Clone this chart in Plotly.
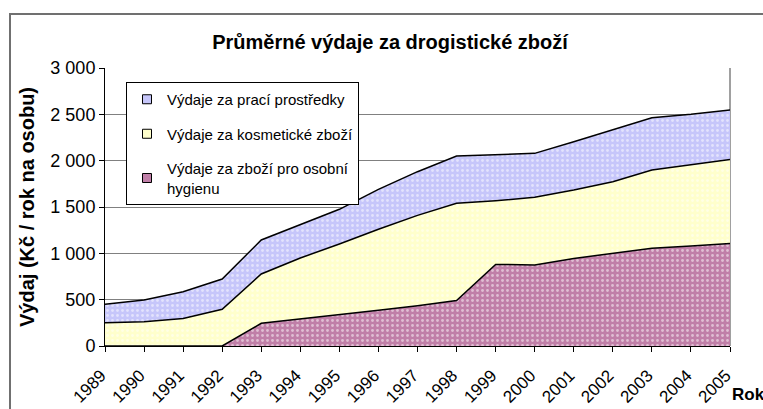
import plotly.graph_objects as go

years = [1989, 1990, 1991, 1992, 1993, 1994, 1995, 1996, 1997, 1998,
         1999, 2000, 2001, 2002, 2003, 2004, 2005]
year_labels = [str(y) for y in years]
hygiene = [0, 0, 0, 0, 245, 290, 340, 385, 435, 490, 880, 875, 945, 1000, 1055, 1080, 1105]
cosmetics = [252, 262, 298, 396, 532, 660, 760, 875, 975, 1050, 688, 729, 738, 773, 844, 873, 909]
washing = [198, 234, 288, 327, 367, 356, 375, 430, 471, 510, 493, 475, 522, 565, 565, 547, 532]

names = ["Výdaje za zboží pro osobní<br>hygienu",
         "Výdaje za kosmetické zboží",
         "Výdaje za prací prostředky"]
series = [hygiene, cosmetics, washing]
colors = ["#C07FA8", "#FFFFCC", "#C6C6FA"]
ranks = [3, 2, 1]

fig = go.Figure()
for i, (nm, vals, col) in enumerate(zip(names, series, colors)):
    fig.add_trace(go.Scatter(
        x=years, y=vals, name=nm, mode="lines",
        stackgroup="one", showlegend=False,
        line=dict(color="black", width=1.5),
        fillcolor=col,
        fillpattern=dict(shape=".", bgcolor=col, fgcolor="white",
                         size=5, solidity=0.25),
        hoverinfo="x+y+name",
    ))
# legend entries with square keys
for i, (nm, col, rk) in enumerate(zip(names, colors, ranks)):
    fig.add_trace(go.Scatter(
        x=[None], y=[None], name=nm, mode="markers",
        legendgroup=str(i), legendrank=rk,
        marker=dict(symbol="square", size=9, color=col,
                    line=dict(color="black", width=1)),
    ))

L, R, T, B = 105, 33, 68, 63
W, H = 763, 409
pw, ph = W - L - R, H - T - B

fig.update_layout(
    width=W, height=H,
    margin=dict(l=L, r=R, t=T, b=B, autoexpand=False),
    paper_bgcolor="white", plot_bgcolor="white",
    font=dict(family="Liberation Sans, Arial, sans-serif", color="black", size=15),
    separators=", ",
    title=dict(text="<b>Průměrné výdaje za drogistické zboží</b>",
               font=dict(size=20, family="Liberation Sans, Arial, sans-serif"),
               x=390 / W, xanchor="center", y=1 - 42 / H, yanchor="middle"),
    showlegend=True,
    legend=dict(x=(126 - L) / pw, y=(346 - 82) / ph, xanchor="left", yanchor="top",
                bgcolor="white", bordercolor="black", borderwidth=1,
                traceorder="grouped", tracegroupgap=12,
                font=dict(size=15), itemwidth=30),
    xaxis=dict(range=[1989, 2005], tickvals=years, ticktext=year_labels,
               tickangle=-45, ticks="outside", ticklen=5, tickcolor="black",
               ticklabelstandoff=7, ticklabelshift=-4,
               showline=True, linecolor="black", linewidth=1,
               showgrid=False, zeroline=False, tickfont=dict(size=17)),
    yaxis=dict(range=[0, 3000], dtick=500, tickformat=",d",
               ticks="outside", ticklen=5, tickcolor="black",
               showline=True, linecolor="black", linewidth=1,
               showgrid=True, gridcolor="#808080", gridwidth=1,
               zeroline=False, tickfont=dict(size=18),
               title=dict(text="<b>Výdaj (Kč / rok na osobu)</b>",
                          font=dict(size=20), standoff=10)),
    shapes=[
        dict(type="rect", xref="paper", yref="paper",
             x0=(10 - L) / pw, x1=(W + 40 - L) / pw,
             y0=(346 - 440) / ph, y1=(346 - 14) / ph,
             line=dict(color="#707070", width=2), fillcolor="rgba(0,0,0,0)",
             layer="below"),
        dict(type="line", xref="paper", yref="paper", x0=1, x1=1, y0=0, y1=1,
             line=dict(color="#808080", width=1.5), layer="below"),
    ],
    annotations=[
        dict(text="<b>Rok</b>", xref="paper", yref="paper",
             x=(730 - L) / pw, y=(346 - 394) / ph, xanchor="left", yanchor="middle",
             showarrow=False, font=dict(size=17)),
    ],
)

fig.write_html("out.html", config={"displayModeBar": False},
               post_script="document.body.style.margin='0';document.body.style.overflow='hidden';")
